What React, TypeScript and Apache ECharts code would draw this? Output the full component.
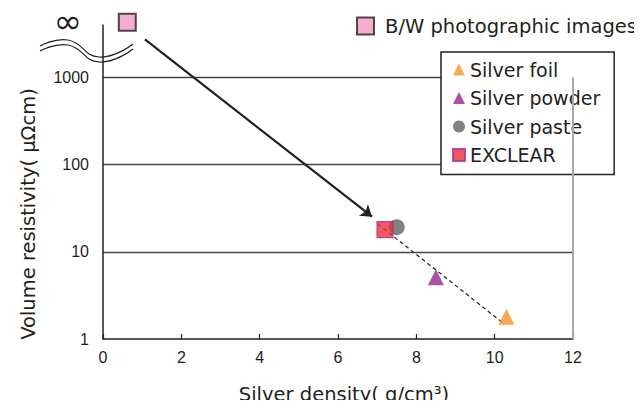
import React, { useEffect, useRef } from 'react';
import * as echarts from 'echarts';

// ---- data ----
const seriesNames = ['Silver foil', 'Silver powder', 'Silver paste', 'EXCLEAR'];
const bwName = 'B/W photographic images';
const silverFoil = [[10.3, 1.8]];
const silverPowder = [[8.5, 5.1]];
const silverPaste = [[7.5, 19.2]];
const exclear = [[7.2, 18]];
const bwImages = [[0.62, 4300]]; // plotted at the "∞" level
const trendLine = [[7.02, 20.8], [10.21, 1.53]];
const arrowPath = [[1.07, 2735], [6.87, 25.3]];
const xMin = 0;
const xMax = 12;
const xInterval = 2;
const yMin = 1;
const yMax = 4000;
const frameTop = 1000;
const xTitle = 'Silver density( g/cm³)';
const yTitle = 'Volume resistivity( μΩcm)';

const FONT = '"DejaVu Sans", sans-serif';
const NUM_FONT = '"Liberation Sans", Arial, sans-serif';
const INK = '#231f20';

export default function App() {
  const ref = useRef<HTMLDivElement>(null);
  useEffect(() => {
    if (!ref.current) return;
    const chart = echarts.init(ref.current, null, { renderer: 'svg' });
    chart.setOption({
      animation: false,
      backgroundColor: '#fff',
      textStyle: { fontFamily: FONT },
      grid: { left: 103, right: 69, top: 25, bottom: 69, containLabel: false, outerBoundsMode: 'none' },
      xAxis: {
        type: 'value',
        min: xMin,
        max: xMax,
        interval: xInterval,
        name: xTitle,
        nameLocation: 'middle',
        nameGap: 45,
        nameTextStyle: { fontSize: 19.5, color: INK, fontFamily: FONT, padding: [0, 0, 0, 12] },
        axisLine: { lineStyle: { color: INK, width: 1.5 } },
        axisTick: { show: true, inside: true, length: 5, lineStyle: { color: INK, width: 1.2 } },
        axisLabel: { fontSize: 16, color: INK, margin: 10, fontFamily: NUM_FONT },
        splitLine: { show: false },
      },
      yAxis: {
        type: 'log',
        logBase: 10,
        min: yMin,
        max: yMax,
        axisLine: { show: true, lineStyle: { color: INK, width: 1.5 } },
        axisTick: { show: false },
        axisLabel: {
          fontSize: 16,
          color: INK,
          margin: 14,
          fontFamily: NUM_FONT,
          showMaxLabel: false,
          formatter: (v: number) => String(Math.round(v)),
        },
        splitLine: { show: true, showMinLine: false, showMaxLine: false, lineStyle: { color: '#444', width: 1.3 } },
      },
      legend: [
        {
          left: 351,
          top: 11,
          itemWidth: 17,
          itemHeight: 17,
          itemGap: 10,
          data: [{ name: bwName, icon: 'rect' }],
          textStyle: { fontSize: 19.5, color: INK, fontFamily: FONT, padding: [0, 0, 0, 6] },
          selectedMode: false,
        },
        {
          orient: 'vertical',
          left: 441,
          top: 52,
          padding: [8, 14, 10, 11],
          itemWidth: 12,
          itemHeight: 12,
          itemGap: 9.5,
          backgroundColor: '#fff',
          borderColor: INK,
          borderWidth: 1.5,
          borderRadius: 0,
          selectedMode: false,
          textStyle: { fontSize: 19, color: INK, fontFamily: FONT },
          data: [
            { name: seriesNames[0], icon: 'triangle' },
            { name: seriesNames[1], icon: 'triangle' },
            { name: seriesNames[2], icon: 'circle' },
            { name: seriesNames[3], icon: 'rect' },
          ],
        },
      ],
      series: [
        {
          type: 'line',
          name: 'trend',
          data: trendLine,
          symbol: 'none',
          silent: true,
          lineStyle: { color: INK, width: 1.2, type: [4, 3] },
          z: 2,
          markLine: {
            silent: true,
            symbol: 'none',
            label: { show: false },
            lineStyle: { color: '#a8a8a8', width: 2, type: 'solid' },
            data: [[{ coord: [xMax, yMin] }, { coord: [xMax, frameTop] }]],
          },
        },
        {
          type: 'lines',
          coordinateSystem: 'cartesian2d',
          silent: true,
          symbol: ['none', 'arrow'],
          symbolSize: 11,
          lineStyle: { color: INK, width: 2.2, opacity: 1 },
          data: [{ coords: arrowPath }],
          z: 2,
        },
        {
          type: 'scatter',
          name: bwName,
          data: bwImages,
          symbol: 'rect',
          symbolSize: 17,
          clip: false,
          itemStyle: { color: '#f49ac1', borderColor: INK, borderWidth: 2 },
          z: 5,
        },
        {
          type: 'scatter',
          name: seriesNames[0],
          data: silverFoil,
          symbol: 'triangle',
          symbolSize: [16, 16],
          itemStyle: { color: '#f7922a' },
          z: 5,
        },
        {
          type: 'scatter',
          name: seriesNames[1],
          data: silverPowder,
          symbol: 'triangle',
          symbolSize: [16, 16],
          itemStyle: { color: '#93278f' },
          z: 5,
        },
        {
          type: 'scatter',
          name: seriesNames[2],
          data: silverPaste,
          symbol: 'circle',
          symbolSize: 16,
          itemStyle: { color: '#606163' },
          z: 5,
        },
        {
          type: 'scatter',
          name: seriesNames[3],
          data: exclear,
          symbol: 'rect',
          symbolSize: 16,
          itemStyle: { color: '#e8303f', borderColor: '#a8308f', borderWidth: 1.2 },
          z: 6,
        },
      ],
      graphic: [
        {
          type: 'text',
          x: 28,
          y: 214,
          rotation: Math.PI / 2,
          style: {
            text: yTitle,
            fontSize: 19.5,
            fontFamily: FONT,
            fill: INK,
            textAlign: 'center',
            textVerticalAlign: 'middle',
          },
        },
        {
          type: 'text',
          x: 68,
          y: 21,
          style: {
            text: '∞',
            fontSize: 34,
            fontFamily: FONT,
            fill: INK,
            textAlign: 'center',
            textVerticalAlign: 'middle',
          },
        },
        {
          type: 'polyline',
          shape: { points: [[40, 46], [68, 40], [99, 57], [133, 44]], smooth: 0.5 },
          style: { stroke: INK, lineWidth: 1.2, fill: null },
        },
        {
          type: 'polyline',
          shape: { points: [[40, 51], [68, 45], [99, 62], [133, 49]], smooth: 0.5 },
          style: { stroke: INK, lineWidth: 1.2, fill: null },
        },
      ],
    });
    return () => chart.dispose();
  }, []);
  return <div ref={ref} style={{ width: 642, height: 408, margin: -8 }} />;
}
